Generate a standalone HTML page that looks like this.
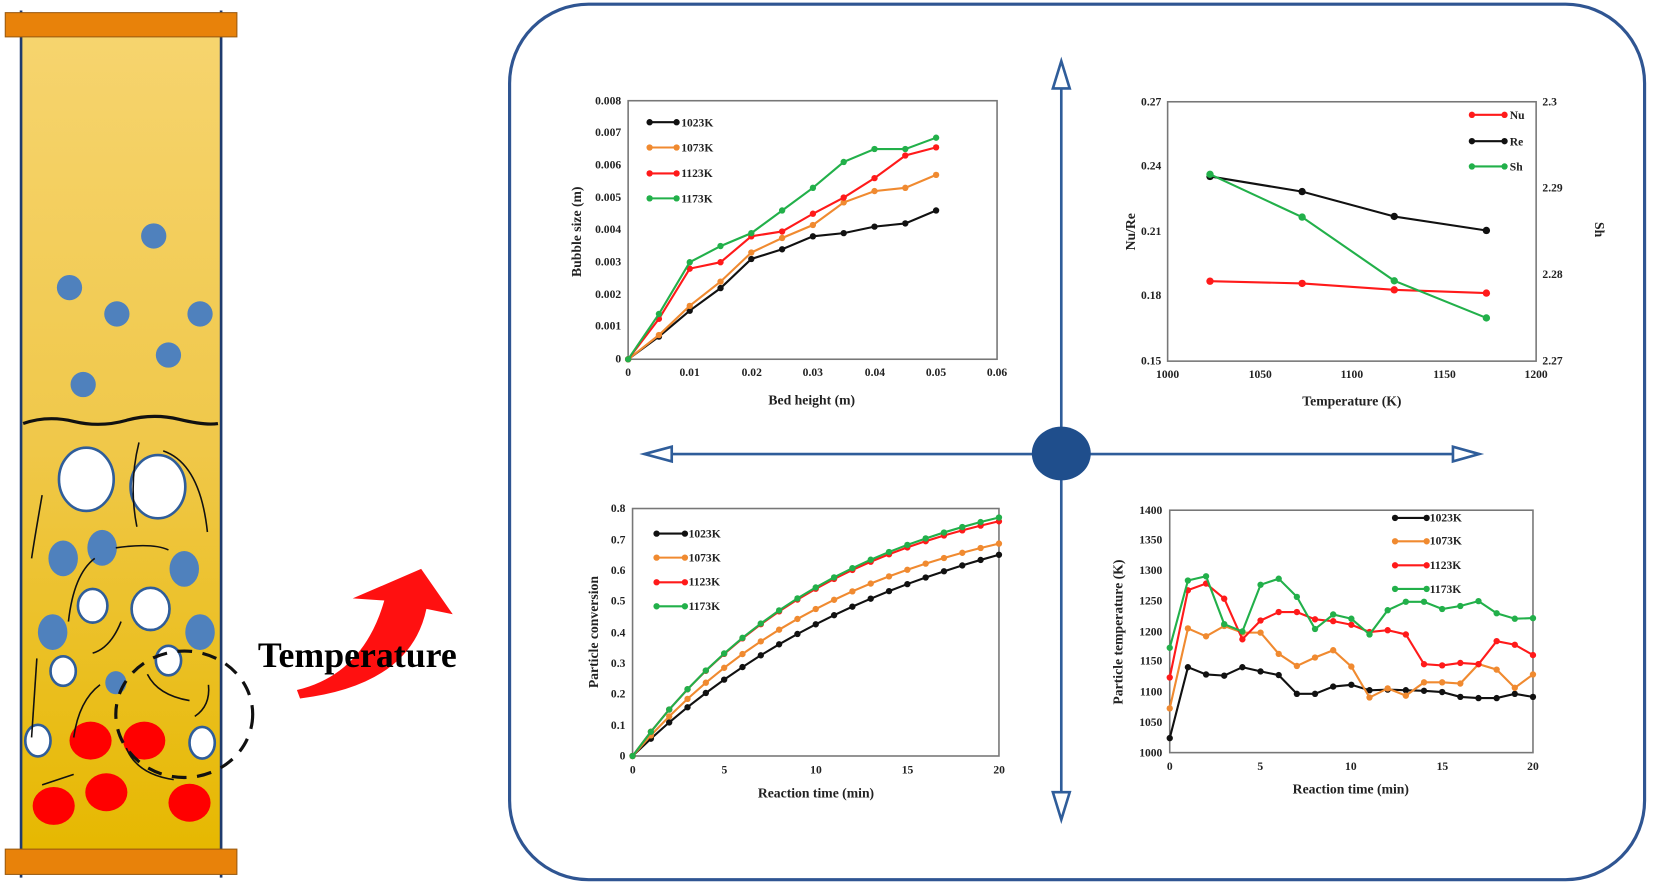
<!DOCTYPE html>
<html><head><meta charset="utf-8"><style>
html,body{margin:0;padding:0;background:#fff;}
svg{display:block;}
text{font-family:"Liberation Serif",serif;font-weight:bold;fill:#222;}
</style></head><body>
<svg id="s" width="1653" height="886" viewBox="0 0 1570 841" preserveAspectRatio="none" xmlns="http://www.w3.org/2000/svg">
<defs>
<linearGradient id="yg" x1="0" y1="0" x2="0" y2="1">
<stop offset="0" stop-color="#f6d46e"/><stop offset="0.5" stop-color="#f0c84a"/><stop offset="1" stop-color="#e6b800"/>
</linearGradient>
</defs>
<!-- left column -->
<rect x="20" y="33" width="190" height="775" fill="url(#yg)"/>
<line x1="20" y1="10" x2="20" y2="833" stroke="#1f3b6e" stroke-width="2.5"/>
<line x1="210" y1="10" x2="210" y2="833" stroke="#1f3b6e" stroke-width="2.5"/>
<rect x="5" y="12" width="220" height="23" fill="#e8820a" stroke="#9a5a10" stroke-width="1"/>
<rect x="5" y="806" width="220" height="24" fill="#e8820a" stroke="#9a5a10" stroke-width="1"/>
<g fill="#4f81bd">
<ellipse cx="146" cy="224" rx="12" ry="12"/><ellipse cx="66" cy="273" rx="12" ry="12"/>
<ellipse cx="111" cy="298" rx="12" ry="12"/><ellipse cx="190" cy="298" rx="12" ry="12"/>
<ellipse cx="160" cy="337" rx="12" ry="12"/><ellipse cx="79" cy="365" rx="12" ry="12"/>
<ellipse cx="60" cy="530" rx="14" ry="17"/><ellipse cx="97" cy="520" rx="14" ry="17"/>
<ellipse cx="175" cy="540" rx="14" ry="17"/><ellipse cx="50" cy="600" rx="14" ry="17"/>
<ellipse cx="190" cy="600" rx="14" ry="17"/><ellipse cx="110" cy="648" rx="10" ry="11"/>
</g>
<path d="M22 402 Q45 394 70 400 T120 399 T170 398 T207 402" stroke="#111" stroke-width="3" fill="none"/>
<g fill="#fff" stroke="#2f5d9a" stroke-width="2.5">
<ellipse cx="82" cy="455" rx="26" ry="30"/><ellipse cx="150" cy="462" rx="26" ry="30"/>
<ellipse cx="88" cy="575" rx="14" ry="16"/><ellipse cx="143" cy="578" rx="18" ry="20"/>
<ellipse cx="60" cy="637" rx="12" ry="14"/><ellipse cx="160" cy="627" rx="12" ry="14"/>
<ellipse cx="36" cy="703" rx="12" ry="15"/><ellipse cx="192" cy="705" rx="12" ry="15"/>
</g>
<g fill="#ff0000">
<ellipse cx="86" cy="703" rx="20" ry="18"/><ellipse cx="137" cy="703" rx="20" ry="18"/>
<ellipse cx="51" cy="765" rx="20" ry="18"/><ellipse cx="101" cy="752" rx="20" ry="18"/>
<ellipse cx="180" cy="762" rx="20" ry="18"/>
</g>
<g stroke="#111" stroke-width="1.5" fill="none">
<path d="M40 470 Q33 510 30 530"/><path d="M130 500 Q122 460 132 420"/><path d="M155 428 Q190 440 197 505"/>
<path d="M110 520 Q145 515 160 522"/><path d="M65 590 Q70 545 90 530"/><path d="M35 625 L30 700"/>
<path d="M88 620 Q105 615 115 590"/><path d="M70 700 Q75 665 95 650"/><path d="M40 745 Q55 740 70 735"/>
<path d="M165 740 Q130 735 120 710"/><path d="M180 665 Q150 660 140 640"/><path d="M198 650 Q200 670 185 680"/>
</g>
<ellipse cx="175" cy="678" rx="65" ry="60" fill="none" stroke="#111" stroke-width="3" stroke-dasharray="14 10"/>
<path d="M282 655 Q345 640 365 570 L335 568 L400 540 L430 583 L405 578 Q390 650 285 663 Z" fill="#ff1010"/>
<text x="245" y="633" font-size="34" style="fill:#000">Temperature</text>

<!-- big frame -->
<rect x="484" y="4" width="1078" height="831" rx="75" ry="75" fill="none" stroke="#2f5592" stroke-width="3"/>
<g stroke="#2f5d9a" stroke-width="2.5" fill="#fff">
<line x1="1008" y1="80" x2="1008" y2="758"/>
<line x1="630" y1="431" x2="1388" y2="431"/>
<path d="M1008 58 L1000 84 L1016 84 Z"/><path d="M1008 778 L1000 752 L1016 752 Z"/>
<path d="M612 431 L638 424 L638 438 Z"/><path d="M1405 431 L1380 424 L1380 438 Z"/>
</g>
<ellipse cx="1008" cy="430.5" rx="28" ry="25.5" fill="#1f4e8c"/>

<!-- chart frames -->
<g fill="none" stroke="#777" stroke-width="1.5">
<rect x="596.6" y="95.6" width="350.4" height="245.4"/>
<rect x="1109" y="96.6" width="350" height="246.2"/>
<rect x="600.8" y="482.7" width="348" height="234.9"/>
<rect x="1111" y="484.3" width="345" height="230.1"/>
</g>
<g font-size="11" text-anchor="end">
<text x="590" y="344">0</text><text x="590" y="313">0.001</text><text x="590" y="283">0.002</text><text x="590" y="252">0.003</text><text x="590" y="221">0.004</text><text x="590" y="191">0.005</text><text x="590" y="160">0.006</text><text x="590" y="129">0.007</text><text x="590" y="99">0.008</text>
<text x="1103" y="346">0.15</text><text x="1103" y="284">0.18</text><text x="1103" y="223">0.21</text><text x="1103" y="161">0.24</text><text x="1103" y="100">0.27</text>
<text x="594" y="721">0</text><text x="594" y="692">0.1</text><text x="594" y="662">0.2</text><text x="594" y="633">0.3</text><text x="594" y="604">0.4</text><text x="594" y="574">0.5</text><text x="594" y="545">0.6</text><text x="594" y="516">0.7</text><text x="594" y="486">0.8</text>
<text x="1104" y="718">1000</text><text x="1104" y="689">1050</text><text x="1104" y="660">1100</text><text x="1104" y="631">1150</text><text x="1104" y="603">1200</text><text x="1104" y="574">1250</text><text x="1104" y="545">1300</text><text x="1104" y="516">1350</text><text x="1104" y="488">1400</text>
</g>
<g font-size="11" text-anchor="start">
<text x="1465" y="346">2.27</text><text x="1465" y="264">2.28</text><text x="1465" y="182">2.29</text><text x="1465" y="100">2.3</text>
</g>
<g font-size="11" text-anchor="middle">
<text x="596.6" y="357">0</text><text x="655" y="357">0.01</text><text x="714" y="357">0.02</text><text x="772" y="357">0.03</text><text x="831" y="357">0.04</text><text x="889" y="357">0.05</text><text x="947" y="357">0.06</text>
<text x="1109" y="359">1000</text><text x="1197" y="359">1050</text><text x="1284" y="359">1100</text><text x="1372" y="359">1150</text><text x="1459" y="359">1200</text>
<text x="601" y="734">0</text><text x="688" y="734">5</text><text x="775" y="734">10</text><text x="862" y="734">15</text><text x="949" y="734">20</text>
<text x="1111" y="731">0</text><text x="1197" y="731">5</text><text x="1283" y="731">10</text><text x="1370" y="731">15</text><text x="1456" y="731">20</text>
</g>
<g font-size="13" text-anchor="middle">
<text x="771" y="384">Bed height (m)</text>
<text x="1284" y="385">Temperature (K)</text>
<text x="775" y="757">Reaction time (min)</text>
<text x="1283" y="753">Reaction time (min)</text>
<text transform="translate(552,220) rotate(-90)">Bubble size (m)</text>
<text transform="translate(1078,220) rotate(-90)">Nu/Re</text>
<text transform="translate(1515,218) rotate(90)">Sh</text>
<text transform="translate(568,600) rotate(-90)">Particle conversion</text>
<text transform="translate(1066,600) rotate(-90)">Particle temperature (K)</text>
</g>
<g id="series"></g>
<g font-size="11">
<text x="647" y="120">1023K</text><text x="647" y="144">1073K</text><text x="647" y="168">1123K</text><text x="647" y="192">1173K</text>
<text x="1434" y="113">Nu</text><text x="1434" y="138">Re</text><text x="1434" y="162">Sh</text>
<text x="654" y="510">1023K</text><text x="654" y="533">1073K</text><text x="654" y="556">1123K</text><text x="654" y="579">1173K</text>
<text x="1358" y="495">1023K</text><text x="1358" y="517">1073K</text><text x="1358" y="540">1123K</text><text x="1358" y="563">1173K</text>
</g>
</svg>
<script>
(function(){
var g=document.getElementById('series'),NS='http://www.w3.org/2000/svg';
function add(pts,col,r){var p=document.createElementNS(NS,'polyline');p.setAttribute('points',pts.map(function(a){return a[0].toFixed(1)+','+a[1].toFixed(1)}).join(' '));p.setAttribute('fill','none');p.setAttribute('stroke',col);p.setAttribute('stroke-width','2');g.appendChild(p);
pts.forEach(function(a){var c=document.createElementNS(NS,'circle');c.setAttribute('cx',a[0]);c.setAttribute('cy',a[1]);c.setAttribute('r',r);c.setAttribute('fill',col);g.appendChild(c);});}
var K=['#111','#f08a30','#ff1a1a','#22b04a'];
// chart1
var d1=[[0,0.0007,0.0015,0.0022,0.0031,0.0034,0.0038,0.0039,0.0041,0.0042,0.0046],
[0,0.00075,0.00165,0.0024,0.0033,0.00375,0.00415,0.00485,0.0052,0.0053,0.0057],
[0,0.00125,0.0028,0.003,0.0038,0.00395,0.0045,0.005,0.0056,0.0063,0.00655],
[0,0.0014,0.003,0.0035,0.0039,0.0046,0.0053,0.0061,0.0065,0.0065,0.00685]];
d1.forEach(function(s,i){add(s.map(function(v,j){return [596.6+j*29.25,341-v*30700]}),K[i],3);});
[116,140,164.6,188.3].forEach(function(y,i){add([[617,y],[642.6,y]],K[i],3);});
// chart2
function X2(t){return 1109+(t-1000)*1.75}function Y2(v){return 342.8-(v-0.15)*2050}
var T=[1023,1073,1123,1173];
add(T.map(function(t,i){return [X2(t),Y2([0.187,0.186,0.183,0.1815][i])]}),'#ff1a1a',3.5);
add(T.map(function(t,i){return [X2(t),Y2([0.2355,0.2285,0.217,0.2105][i])]}),'#111',3.5);
add(T.map(function(t,i){return [X2(t),Y2([0.2365,0.2167,0.1872,0.170][i])]}),'#22b04a',3.5);
[[109,'#ff1a1a'],[134,'#111'],[158,'#22b04a']].forEach(function(a){add([[1398,a[0]],[1429,a[0]]],a[1],3);});
// chart3
var P=[[0.857,0.0674,1],[0.855,0.081,1],[0.93,0.088,0.985],[0.93,0.088,1]];
P.forEach(function(p,i){var pts=[];for(var t=0;t<=20;t++){var v=p[0]*(1-Math.exp(-p[1]*t));if(i==0)v=v*(1+0.0012*t);if(i==2)v=v*(1-0.0008*t);pts.push([600.8+t*17.4,717.6-v*294]);}add(pts,K[i],3);});
[506.5,529.3,552.7,575.5].forEach(function(y,i){add([[623.6,y],[650.5,y]],K[i],3);});
// chart4
var d4=[[1024,1141,1129,1127,1141,1134,1128,1097,1097,1109,1112,1103,1104,1103,1102,1100,1092,1090,1090,1097,1092],
[1073,1205,1192,1209,1198,1198,1163,1143,1157,1169,1142,1091,1106,1094,1116,1116,1114,1146,1137,1107,1129],
[1124,1268,1279,1254,1187,1218,1232,1232,1220,1217,1211,1199,1202,1195,1146,1144,1148,1146,1184,1178,1161],
[1173,1284,1291,1212,1200,1277,1287,1257,1204,1228,1221,1195,1235,1249,1249,1237,1242,1250,1230,1221,1222]];
d4.forEach(function(s,i){add(s.map(function(v,j){return [1111+j*17.25,714.4-(v-1000)*0.5752]}),K[i],3);});
[491.6,513.8,536.6,559].forEach(function(y,i){add([[1325,y],[1355,y]],K[i],3);});
})();
</script>
</body></html>
